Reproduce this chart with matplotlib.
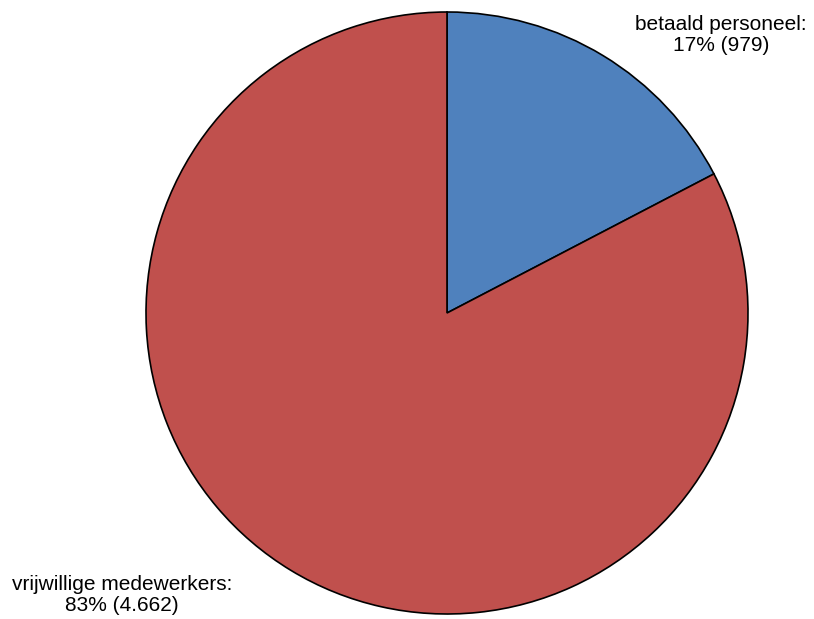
import matplotlib
matplotlib.use("Agg")
import matplotlib.pyplot as plt

categories = ["betaald personeel", "vrijwillige medewerkers"]
values = [979, 4662]
value_labels = ["979", "4.662"]
colors = ["#4F81BD", "#C0504D"]

W, H = 814, 619
fig = plt.figure(figsize=(W / 100, H / 100), dpi=100)
ax = fig.add_axes([0, 0, 1, 1])
ax.set_xlim(0, W)
ax.set_ylim(0, H)
ax.set_aspect("equal")
ax.axis("off")

cx, cy, r = 447, H - 313, 301
ax.pie(values, colors=colors, startangle=90, counterclock=False,
       center=(cx, cy), radius=r, frame=True,
       wedgeprops=dict(edgecolor="black", linewidth=1.2))
ax.set_xlim(0, W)
ax.set_ylim(0, H)
ax.axis("off")

total = sum(values)
label_pos = [(721, H - 35), (122, H - 595)]
for cat, v, vl, (x, y) in zip(categories, values, value_labels, label_pos):
    pct = round(100 * v / total)
    ax.text(x, y, f"{cat}:\n{pct}% ({vl})", ha="center", va="center",
            fontsize=15, family="Liberation Sans", linespacing=1.15)

fig.savefig("out.png", dpi=100)
